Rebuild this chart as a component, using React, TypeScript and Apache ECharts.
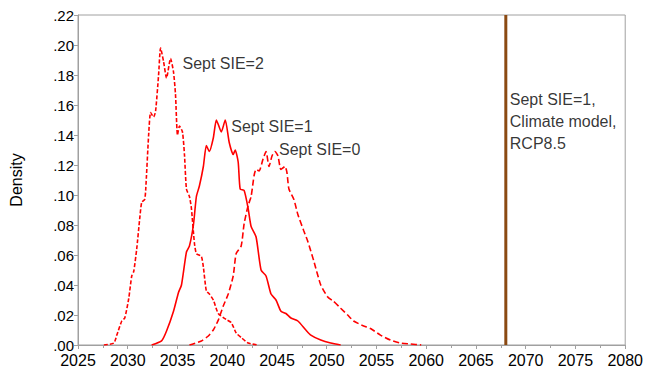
import React, { useEffect, useRef } from "react";
import * as echarts from "echarts";

// Sept SIE=2 (short dashes)
const sie2Years = [2027.6, 2028.6, 2028.9, 2029.4, 2029.7, 2030.1, 2030.4, 2030.6, 2030.9, 2031.2, 2031.4, 2031.7, 2031.8, 2032.1, 2032.3, 2032.6, 2032.8, 2033.1, 2033.3, 2033.6, 2033.9, 2034.3, 2034.6, 2034.8, 2035.0, 2035.2, 2035.5, 2035.7, 2035.9, 2036.2, 2036.4, 2036.7, 2036.9, 2037.4, 2037.6, 2037.9, 2038.2, 2038.6, 2039.1, 2039.9, 2040.4, 2040.9, 2041.4, 2042.1, 2043.1];
const sie2Density = [0, 0.0013, 0.0066, 0.016, 0.018, 0.031, 0.046, 0.049, 0.064, 0.084, 0.095, 0.097, 0.103, 0.14, 0.155, 0.152, 0.156, 0.18, 0.198, 0.189, 0.178, 0.191, 0.182, 0.167, 0.14, 0.146, 0.142, 0.127, 0.104, 0.099, 0.091, 0.068, 0.061, 0.059, 0.052, 0.036, 0.034, 0.03, 0.021, 0.017, 0.015, 0.008, 0.005, 0.0013, 0];

// Sept SIE=1 (solid)
const sie1Years = [2032.4, 2033.4, 2033.9, 2034.6, 2035.1, 2035.4, 2035.9, 2036.2, 2036.6, 2036.9, 2037.2, 2037.6, 2037.9, 2038.2, 2038.6, 2038.9, 2039.1, 2039.4, 2039.8, 2040.2, 2040.6, 2040.8, 2041.1, 2041.3, 2041.7, 2042.1, 2042.4, 2042.9, 2043.4, 2043.9, 2044.4, 2044.9, 2045.4, 2045.9, 2046.4, 2047.1, 2047.9, 2048.4, 2049.4, 2050.4, 2051.4];
const sie1Density = [0, 0.0027, 0.0093, 0.0225, 0.035, 0.04, 0.062, 0.066, 0.08, 0.099, 0.106, 0.119, 0.133, 0.129, 0.138, 0.15, 0.147, 0.142, 0.15, 0.135, 0.127, 0.13, 0.122, 0.104, 0.103, 0.091, 0.079, 0.072, 0.05, 0.046, 0.034, 0.03, 0.0225, 0.021, 0.018, 0.016, 0.01, 0.0066, 0.0033, 0.0013, 0];

// Sept SIE=0 (long dashes)
const sie0Years = [2036.2, 2037.4, 2038.1, 2038.6, 2039.1, 2039.6, 2040.1, 2040.6, 2040.9, 2041.4, 2041.7, 2042.1, 2042.4, 2042.7, 2042.9, 2043.2, 2043.6, 2043.9, 2044.2, 2044.5, 2044.8, 2045.1, 2045.4, 2045.8, 2046.0, 2046.2, 2046.7, 2047.1, 2047.7, 2048.1, 2048.7, 2049.4, 2050.1, 2050.7, 2051.4, 2052.1, 2052.7, 2053.6, 2054.4, 2055.4, 2056.4, 2057.4, 2058.4, 2059.5];
const sie0Density = [0, 0.0027, 0.006, 0.01, 0.0166, 0.026, 0.034, 0.046, 0.061, 0.066, 0.081, 0.093, 0.099, 0.113, 0.117, 0.116, 0.124, 0.129, 0.119, 0.126, 0.129, 0.126, 0.117, 0.119, 0.115, 0.104, 0.097, 0.087, 0.076, 0.069, 0.056, 0.04, 0.032, 0.029, 0.0245, 0.02, 0.016, 0.013, 0.011, 0.0066, 0.0033, 0.0013, 0.0007, 0];

const climateModelYear = 2068;

const xMin = 2025;
const xMax = 2080;
const xStep = 5;
const yMin = 0;
const yMax = 0.22;
const yStep = 0.02;

const labelTexts = ["Sept SIE=2", "Sept SIE=1", "Sept SIE=0", "Sept SIE=1,\nClimate model,\nRCP8.5"];
const labelX = [2035.5, 2040.4, 2045.2, 2068.4];
const labelY = [0.188, 0.146, 0.1305, 0.149];

const FONT = "'Liberation Sans', Arial, sans-serif";

function zip(xs: number[], ys: number[]) {
  return xs.map((x, i) => [x, ys[i]]);
}

export default function App() {
  const ref = useRef<HTMLDivElement>(null);
  useEffect(() => {
    if (!ref.current) return;
    document.body.style.margin = "0";
    const chart = echarts.init(ref.current, undefined, { renderer: "svg" });
    chart.setOption({
      animation: false,
      backgroundColor: "#ffffff",
      grid: {
        left: 76,
        right: 20,
        top: 15,
        bottom: 21,
        show: true,
        borderColor: "#a0a0a0",
        borderWidth: 1,
      },
      xAxis: {
        type: "value",
        min: xMin,
        max: xMax,
        interval: xStep,
        axisLine: { lineStyle: { color: "#a0a0a0" } },
        axisTick: { show: true, length: 4, lineStyle: { color: "#a0a0a0" } },
        minorTick: { show: true, splitNumber: 2, length: 3, lineStyle: { color: "#a0a0a0" } },
        splitLine: { show: false },
        axisLabel: {
          color: "#000",
          fontSize: 16,
          lineHeight: 14,
          fontFamily: FONT,
          margin: 8,
          formatter: (v: number) => String(v),
        },
      },
      yAxis: {
        type: "value",
        min: yMin,
        max: yMax,
        interval: yStep,
        name: "Density",
        nameLocation: "middle",
        nameGap: 54,
        nameTextStyle: { color: "#000", fontSize: 16, fontFamily: FONT },
        axisLine: { show: true, lineStyle: { color: "#a0a0a0" } },
        axisTick: { show: true, length: 4, lineStyle: { color: "#a0a0a0" } },
        splitLine: { show: false },
        axisLabel: {
          color: "#000",
          fontSize: 15,
          lineHeight: 12,
          fontFamily: FONT,
          margin: 4,
          formatter: (v: number) => v.toFixed(2).replace(/^0/, ""),
        },
      },
      series: [
        {
          type: "line",
          data: zip(sie2Years, sie2Density),
          showSymbol: false,
          smooth: 0.2,
          lineStyle: { color: "#ff0000", width: 1.6, type: [4, 2] },
        },
        {
          type: "line",
          data: zip(sie1Years, sie1Density),
          showSymbol: false,
          smooth: 0.2,
          lineStyle: { color: "#ff0000", width: 1.6, type: "solid" },
        },
        {
          type: "line",
          data: zip(sie0Years, sie0Density),
          showSymbol: false,
          smooth: 0.2,
          lineStyle: { color: "#ff0000", width: 1.6, type: [6, 3] },
        },
        {
          type: "line",
          data: [
            [climateModelYear, yMin],
            [climateModelYear, yMax],
          ],
          showSymbol: false,
          lineStyle: { color: "#8b4a12", width: 3 },
        },
        {
          type: "scatter",
          symbolSize: 0,
          data: labelTexts.map((t, i) => ({ value: [labelX[i], labelY[i]], name: t })),
          label: {
            show: true,
            position: "right",
            distance: 0,
            formatter: (p: any) => p.name,
            color: "#000",
            fontSize: 16,
            fontFamily: FONT,
            lineHeight: 22,
            align: "left",
            verticalAlign: "middle",
          },
        },
      ],
    });
    return () => chart.dispose();
  }, []);
  return <div ref={ref} style={{ width: 646, height: 368 }} />;
}
